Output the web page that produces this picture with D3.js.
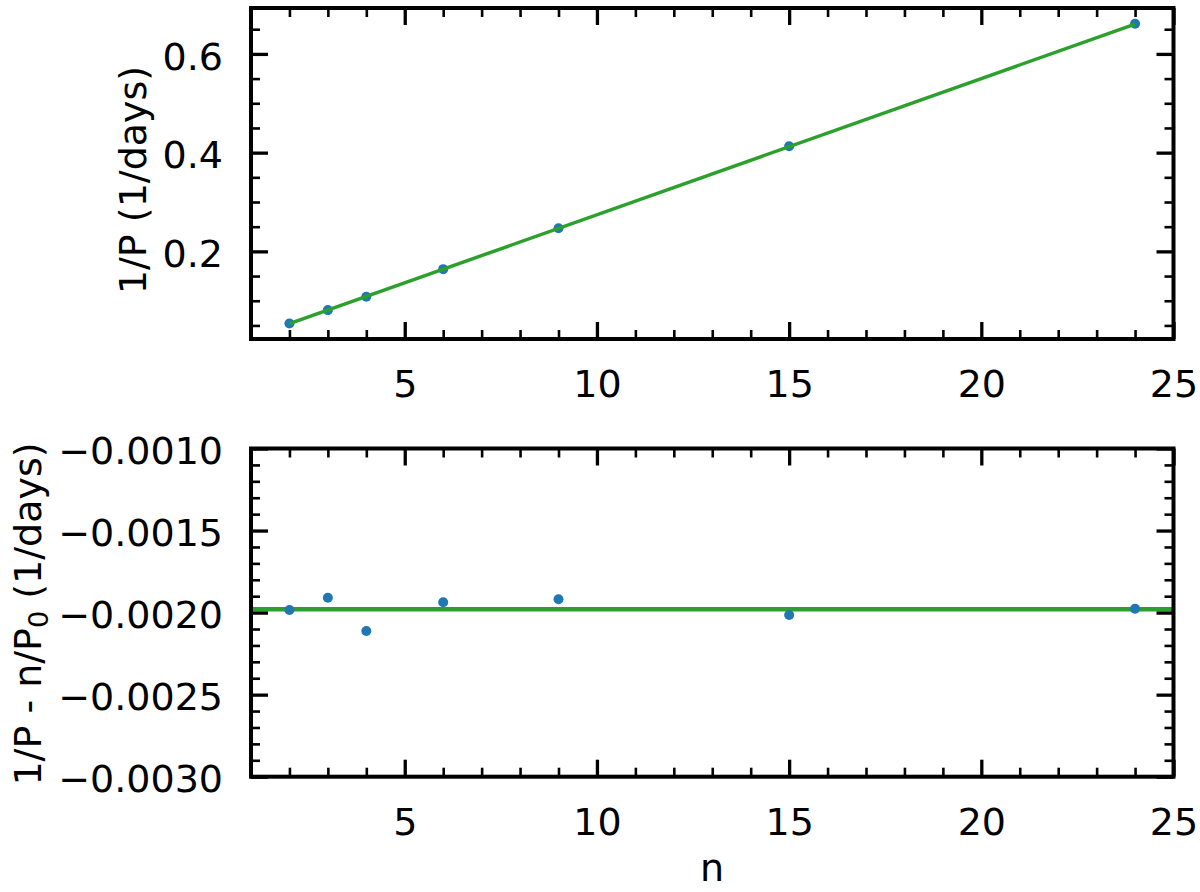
<!DOCTYPE html>
<html><head><meta charset="utf-8">
<script src="https://cdn.jsdelivr.net/npm/d3@7"></script>
<style>body{margin:0;background:#fff} svg{display:block} text{font-family:"DejaVu Sans",sans-serif}</style>
</head><body><svg id="c" width="1200" height="892"></svg>
<script>
const nValues = [2, 3, 4, 6, 9, 15, 24];
const invPeriod = [0.054, 0.081, 0.108, 0.164, 0.247, 0.413, 0.661];
const residual = [-0.001984, -0.001909, -0.002112, -0.001937, -0.001919, -0.002015, -0.001976];
const fitN = [2, 24];
const fitInvPeriod = [0.0535, 0.6605];
const residualFitN = [1, 25];
const residualFit = [-0.00198, -0.00198];
const xTicks = [5, 10, 15, 20, 25];
const xMinorTicks = [1,2,3,4,6,7,8,9,11,12,13,14,16,17,18,19,21,22,23,24];
const topYTicks = [0.2, 0.4, 0.6];
const topYMinorTicks = [0.05,0.1,0.15,0.25,0.3,0.35,0.45,0.5,0.55,0.65];
const bottomYTicks = [-0.0030, -0.0025, -0.0020, -0.0015, -0.0010];
const bottomYMinorTicks = d3.range(-29, -10).filter(v => v % 5 !== 0).map(v => v / 10000);

const BLUE = "#1f77b4", GREEN = "#2ca02c";
const svg = d3.select("#c");
const x0 = 251, x1 = 1173.5;
const x = d3.scaleLinear([1, 25], [x0, x1]);
const yTop = d3.scaleLinear([0.0225, 0.693], [339, 8]);
const yBot = d3.scaleLinear([-0.0030, -0.0010], [776.7, 448.5]);

function frame(y, yTicks, yMinor, yFmt) {
  const [yb, yt] = y.range();
  const g = svg.append("g");
  const style = (sel, w, labels) => {
    sel.select(".domain").remove();
    sel.selectAll(".tick line").attr("stroke", "#000").attr("stroke-width", w);
    sel.selectAll(".tick text").attr("font-size", 38).attr("fill", "#000").attr("font-family", "DejaVu Sans");
    if (!labels) sel.selectAll(".tick text").remove();
  };
  // bottom
  g.append("g").attr("transform", `translate(0,${yb})`)
    .call(d3.axisBottom(x).tickValues(xMinorTicks).tickSize(-9).tickFormat(""))
    .call(s => style(s, 2.6, false));
  g.append("g").attr("transform", `translate(0,${yb})`)
    .call(d3.axisBottom(x).tickValues(xTicks).tickSize(-17).tickPadding(31).tickFormat(d3.format("d")))
    .call(s => style(s, 3.3, true));
  // top
  g.append("g").attr("transform", `translate(0,${yt})`)
    .call(d3.axisTop(x).tickValues(xMinorTicks).tickSize(-9).tickFormat(""))
    .call(s => style(s, 2.6, false));
  g.append("g").attr("transform", `translate(0,${yt})`)
    .call(d3.axisTop(x).tickValues(xTicks).tickSize(-17).tickFormat(""))
    .call(s => style(s, 3.3, false));
  // left
  g.append("g").attr("transform", `translate(${x0},0)`)
    .call(d3.axisLeft(y).tickValues(yMinor).tickSize(-9).tickFormat(""))
    .call(s => style(s, 2.6, false));
  const la = g.append("g").attr("transform", `translate(${x0},0)`)
    .call(d3.axisLeft(y).tickValues(yTicks).tickSize(-17).tickPadding(28).tickFormat(yFmt))
    .call(s => style(s, 3.3, true));
  la.selectAll(".tick text").attr("dy", "0.4em");
  // right
  g.append("g").attr("transform", `translate(${x1},0)`)
    .call(d3.axisRight(y).tickValues(yMinor).tickSize(-9).tickFormat(""))
    .call(s => style(s, 2.6, false));
  g.append("g").attr("transform", `translate(${x1},0)`)
    .call(d3.axisRight(y).tickValues(yTicks).tickSize(-17).tickFormat(""))
    .call(s => style(s, 3.3, false));
  g.append("rect").attr("x", x0).attr("y", yt).attr("width", x1 - x0).attr("height", yb - yt)
    .attr("fill", "none").attr("stroke", "#000").attr("stroke-width", 4);
}

// top panel data
const topG = svg.append("g");
topG.selectAll("circle").data(nValues).join("circle")
  .attr("cx", d => x(d)).attr("cy", (d, i) => yTop(invPeriod[i])).attr("r", 5).attr("fill", BLUE);
topG.append("path")
  .attr("d", d3.line().x(d => x(d)).y((d, i) => yTop(fitInvPeriod[i]))(fitN))
  .attr("stroke", GREEN).attr("stroke-width", 3.5).attr("fill", "none");
frame(yTop, topYTicks, topYMinorTicks, d3.format(".1f"));

// bottom panel data
const botG = svg.append("g");
botG.append("path")
  .attr("d", d3.line().x(d => x(d)).y((d, i) => yBot(residualFit[i]))(residualFitN))
  .attr("stroke", GREEN).attr("stroke-width", 4.5).attr("fill", "none");
botG.selectAll("circle").data(nValues).join("circle")
  .attr("cx", d => x(d)).attr("cy", (d, i) => yBot(residual[i])).attr("r", 5).attr("fill", BLUE);
frame(yBot, bottomYTicks, bottomYMinorTicks, d3.format(".4f"));

// labels
svg.append("text").attr("transform", "translate(146,180) rotate(-90)")
  .attr("text-anchor", "middle").attr("font-size", 38).text("1/P (1/days)");
const bl = svg.append("text").attr("transform", "translate(41,614) rotate(-90)")
  .attr("text-anchor", "middle").attr("font-size", 38);
bl.append("tspan").text("1/P - n/P");
bl.append("tspan").attr("font-size", 27).attr("dy", 7).text("0");
bl.append("tspan").attr("dy", -7).text(" (1/days)");
svg.append("text").attr("x", 712).attr("y", 881).attr("text-anchor", "middle")
  .attr("font-size", 38).text("n");
</script></body></html>
